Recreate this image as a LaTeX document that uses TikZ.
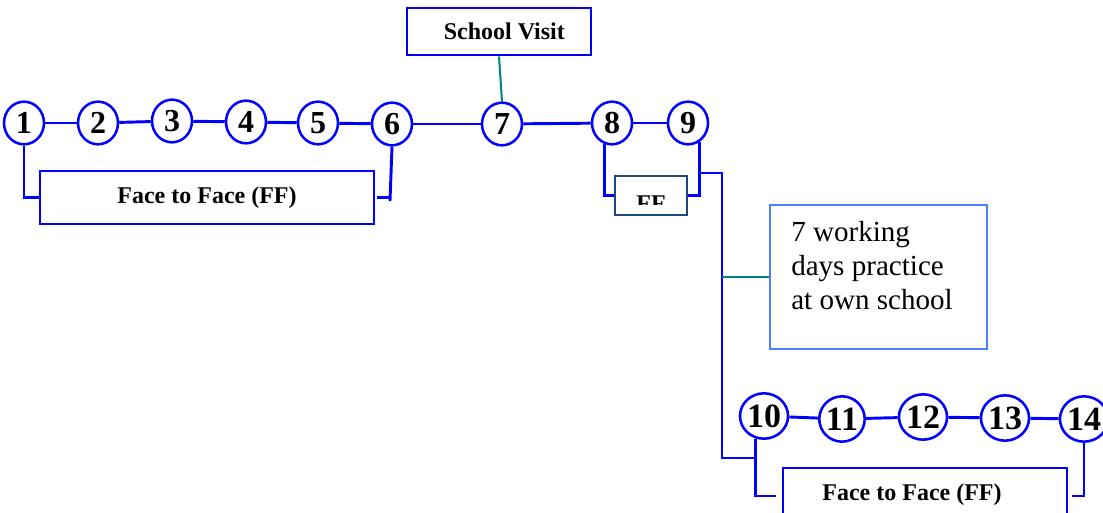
\documentclass[tikz,border=0pt]{standalone}
\usepackage{fontspec}
\setmainfont{Liberation Serif}
\usetikzlibrary{shapes.geometric,calc}
\definecolor{lnblue}{RGB}{0,0,255}
\definecolor{lnteal}{RGB}{0,128,128}
\definecolor{pbox}{RGB}{80,125,255}
\definecolor{ffdark}{RGB}{31,73,125}
\tikzset{
  num/.style={ellipse, draw=lnblue, line width=1.9pt, inner sep=0pt,
    minimum width=30pt, minimum height=32pt,
    font=\bfseries\fontsize{24}{24}\selectfont},
  numbig/.style={num, minimum width=32pt, minimum height=34pt,
    font=\bfseries\fontsize{25.5}{25.5}\selectfont},
  conn/.style={draw=lnblue, line width=2.2pt},
  tconn/.style={draw=lnteal, line width=1.5pt},
  labelbox/.style={rectangle, draw=lnblue, line width=2.2pt, inner sep=0pt,
    font=\bfseries\fontsize{18}{18}\selectfont},
  boldtext/.style={inner sep=0pt, font=\bfseries\fontsize{18}{18}\selectfont},
}
\begin{document}
\begin{tikzpicture}[x=0.75pt,y=-0.75pt]
\useasboundingbox (0,0) rectangle (1103,513);
\clip (0,0) rectangle (1103,513);

% circles, top row
\node[num] (c1) at (24,123) {1};
\node[num] (c2) at (98,123) {2};
\node[num] (c3) at (172,121) {3};
\node[num] (c4) at (246,122) {4};
\node[num] (c5) at (318,123) {5};
\node[num] (c6) at (392,124) {6};
\node[num] (c7) at (502,124) {7};
\node[num] (c8) at (612,123) {8};
\node[num] (c9) at (688,123) {9};
% circles, bottom row
\node[numbig] (c10) at (764,416) {10};
\node[numbig] (c11) at (842,419) {11};
\node[numbig] (c12) at (923,417) {12};
\node[numbig] (c13) at (1005,418) {13};
\node[numbig] (c14) at (1084,419) {14};

% boxes
\node[labelbox, minimum width=250.5pt, minimum height=39.75pt] (ff1) at (207,197.5) {Face to Face (FF)};
\node[labelbox, minimum width=138pt, minimum height=35.25pt] (school) at (499,31.5) {\hspace*{8pt}School Visit};
\node[rectangle, draw=ffdark, line width=1.5pt, minimum width=54pt, minimum height=29.25pt] (ffs) at (651,195.5) {};
\begin{scope}
  \clip (616,177) rectangle (686,205);
  \node[boldtext, anchor=base] (fftext) at (651,212) {FF};
\end{scope}
\node[rectangle, draw=pbox, line width=1.5pt, minimum width=162.75pt, minimum height=108pt] (practice) at (878.5,277) {};
\node[anchor=north west, inner sep=0pt, align=left,
      font=\fontsize{21.8}{25.5}\selectfont] (ptext) at (791,221)
      {7 working\\days practice\\at own school};
\node[labelbox, minimum width=213pt, minimum height=42pt] (ff2) at (925,496) {};
\node[boldtext, anchor=base] (ff2text) at (912,500) {Face to Face (FF)};

% top row connectors
\draw[conn] (c1) -- (c2);
\draw[conn] (c2) -- (c3);
\draw[conn] (c3) -- (c4);
\draw[conn] (c4) -- (c5);
\draw[conn] (c5) -- (c6);
\draw[conn] (c6) -- (c7);
\draw[conn] (c7) -- (c8);
\draw[conn] (c8) -- (c9);
% bottom row connectors
\draw[conn] (c10) -- (c11);
\draw[conn] (c11) -- (c12);
\draw[conn] (c12) -- (c13);
\draw[conn] (c13) -- (c14);

% 1 and 6 to FF box
\draw[conn] (c1.south) |- (ff1.west);
\coordinate (t6) at (390,201);
\draw[conn] (c6.south) -- (t6);
\draw[conn] ([xshift=1.5pt]ff1.east) -- (ff1.east -| t6);

% school visit
\draw[tconn] (school.south) -- (c7.north);

% 8, 9 to small FF box
\draw[conn] (c8.250) |- (ffs.west);
\draw[conn] (c9.300) |- (ffs.east);

% bus to bottom row
\coordinate (h1) at (0,173);
\coordinate (j9) at (c9.300 |- h1);
\coordinate (b1) at (722,458);
\draw[conn] (j9) -| (b1) -| (c10.250);
\draw[conn] (c10.250) |- ([xshift=-4.5pt]ff2.west);
\draw[conn] (c14.south) |- ([xshift=3pt]ff2.east);

% practice link
\draw[tconn] (practice.west -| b1) -- (practice.west);
\end{tikzpicture}
\end{document}
